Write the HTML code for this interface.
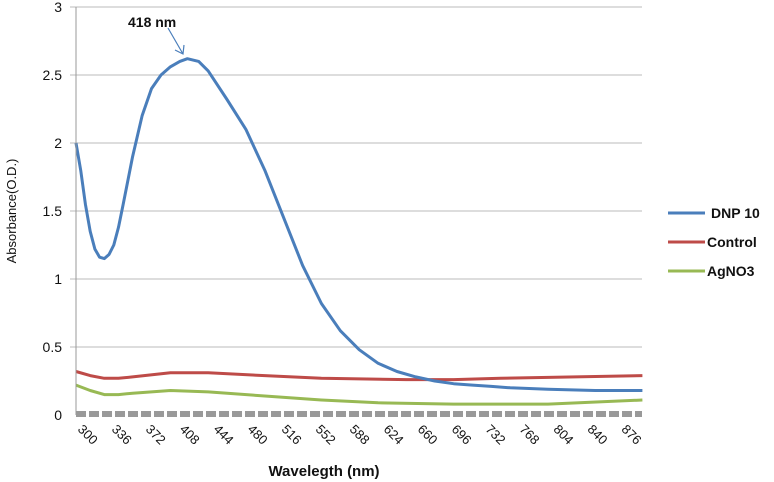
<!DOCTYPE html>
<html><head><meta charset="utf-8"><style>
body{margin:0;background:#fff;}
svg{display:block;font-family:"Liberation Sans",Arial,sans-serif;}
</style></head><body>
<svg id="chart" width="774" height="482" viewBox="0 0 774 482">
<g id="grid"></g>
<g id="yticks"></g>
<g id="xticks"></g>
<g id="series"></g>
<line x1="76" y1="7" x2="76" y2="415" stroke="#999" stroke-width="1"/>
<line x1="76" y1="414" x2="642" y2="414" stroke="#999" stroke-width="6" stroke-dasharray="10,3"/>
<text x="128" y="27" font-size="14" font-weight="bold" fill="#111">418 nm</text>
<path d="M168 28 L183 54 M175 50 L183 54 L184 45" stroke="#4a7ebb" stroke-width="1.2" fill="none"/>
<text transform="translate(16,211) rotate(-90)" text-anchor="middle" font-size="13" fill="#111">Absorbance(O.D.)</text>
<text x="324" y="476" text-anchor="middle" font-size="15" font-weight="bold" fill="#111">Wavelegth (nm)</text>
<rect x="645" y="195" width="129" height="100" fill="#fff"/>
<g><line x1="668" y1="213" x2="705" y2="213" stroke="#4a7ebb" stroke-width="3"/><text x="711" y="218" font-size="14" font-weight="bold" fill="#111">DNP 10</text></g>
<g><line x1="668" y1="242" x2="705" y2="242" stroke="#be4b48" stroke-width="3"/><text x="707" y="247" font-size="14" font-weight="bold" fill="#111">Control</text></g>
<g><line x1="668" y1="271" x2="705" y2="271" stroke="#98b954" stroke-width="3"/><text x="707" y="276" font-size="14" font-weight="bold" fill="#111">AgNO3</text></g>
</svg>
<script>
const yTicks=[0,0.5,1,1.5,2,2.5,3];
const yLabels=["0","0.5","1","1.5","2","2.5","3"];
const xLabels=[300,336,372,408,444,480,516,552,588,624,660,696,732,768,804,840,876];
const dnpX=[300,305,310,315,320,325,330,335,340,345,350,360,370,380,390,400,410,418,430,440,460,480,500,520,540,560,580,600,620,640,660,680,700,720,740,760,800,850,900];
const dnpY=[2.0,1.8,1.55,1.35,1.22,1.16,1.15,1.18,1.25,1.38,1.55,1.9,2.2,2.4,2.5,2.56,2.6,2.62,2.6,2.53,2.32,2.1,1.8,1.45,1.1,0.82,0.62,0.48,0.38,0.32,0.28,0.25,0.23,0.22,0.21,0.2,0.19,0.18,0.18];
const ctrlX=[300,315,330,345,360,400,440,500,560,650,700,750,900];
const ctrlY=[0.32,0.29,0.27,0.27,0.28,0.31,0.31,0.29,0.27,0.26,0.26,0.27,0.29];
const agX=[300,315,330,345,360,400,440,500,560,620,700,800,900];
const agY=[0.22,0.18,0.15,0.15,0.16,0.18,0.17,0.14,0.11,0.09,0.08,0.08,0.11];
const NS="http://www.w3.org/2000/svg";
function xS(v){return 76+(v-300)*0.944;}
function yS(v){return 415-v*136;}
const grid=document.getElementById('grid'),yt=document.getElementById('yticks'),xt=document.getElementById('xticks'),ser=document.getElementById('series');
yTicks.forEach((t,i)=>{
 if(t>0){const l=document.createElementNS(NS,'line');
 
 
 l.setAttribute('x1',70);l.setAttribute('x2',642);l.setAttribute('y1',yS(t));l.setAttribute('y2',yS(t));l.setAttribute('stroke','#bbb');grid.appendChild(l);}
 const tx=document.createElementNS(NS,'text');
 
 
 tx.setAttribute('x',62);tx.setAttribute('y',yS(t)+5);tx.setAttribute('text-anchor','end');tx.setAttribute('font-size','14');tx.setAttribute('fill','#111');tx.textContent=yLabels[i];yt.appendChild(tx);
});
xLabels.forEach(v=>{
 const tx=document.createElementNS(NS,'text');
 
 
 const x=xS(v)+1,y=430;
 tx.setAttribute('x',x);tx.setAttribute('y',y);tx.setAttribute('transform','rotate(45 '+x+' '+y+')');tx.setAttribute('font-size','13');tx.setAttribute('fill','#111');tx.textContent=v;xt.appendChild(tx);
});
function line(xs,ys,color,name){
 const p=document.createElementNS(NS,'polyline');
 
 
 p.setAttribute('points',xs.map((x,i)=>xS(x).toFixed(1)+','+yS(ys[i]).toFixed(1)).join(' '));
 p.setAttribute('fill','none');p.setAttribute('stroke',color);p.setAttribute('stroke-width','3');p.setAttribute('stroke-linejoin','round');
 ser.appendChild(p);
}
line(agX,agY,'#98b954','series-agno3');
line(ctrlX,ctrlY,'#be4b48','series-control');
line(dnpX,dnpY,'#4a7ebb','series-dnp10');
</script>
</body></html>
